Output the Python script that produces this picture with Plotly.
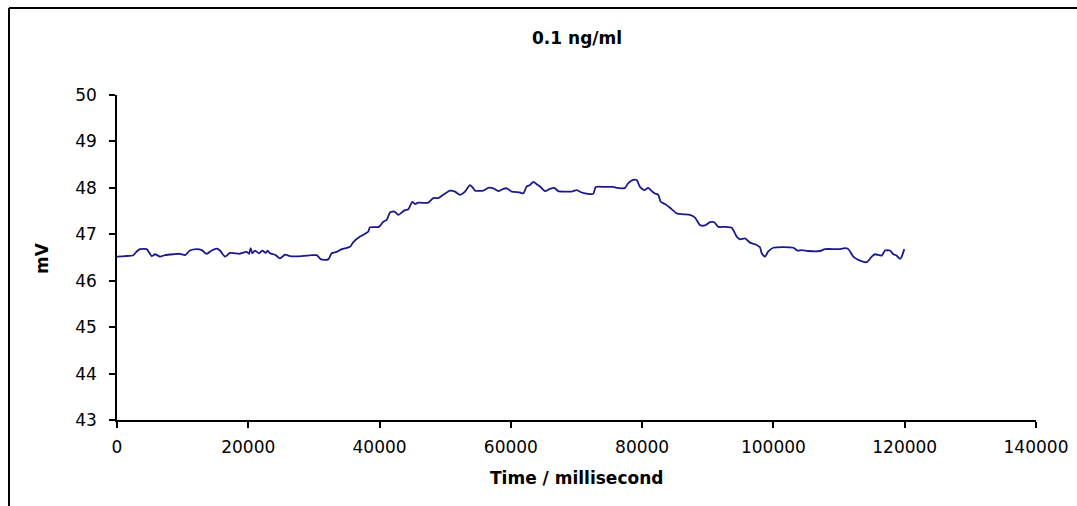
import plotly.graph_objects as go

time_ms = [0, 1219, 2483, 3001, 3504, 4524, 5286, 5789, 6551, 7312, 8577, 9597, 10359, 11120, 12141,
           12903, 13665, 14427, 15188, 15691, 16453, 17214, 17976, 18631, 19759, 20109, 20368, 20612,
           21023, 21632, 22135, 22653, 22958, 23308, 24070, 24831, 25593, 26355, 28137, 29661, 30422,
           31077, 32189, 32707, 33469, 34231, 35495, 35998, 37019, 37781, 38283, 38542, 39913, 40568,
           41086, 41589, 42244, 42853, 43371, 43874, 44377, 44986, 45397, 45900, 47423, 48185, 48946,
           49708, 50729, 51491, 52253, 53014, 53776, 54279, 54538, 55802, 56564, 57326, 58087, 58849,
           59367, 60129, 61393, 61896, 62414, 62917, 63419, 63937, 64440, 65202, 65963, 66618, 67228,
           68248, 69269, 70030, 70792, 71798, 72560, 72925, 74342, 75606, 76124, 77389, 77891, 78653,
           79171, 79674, 80329, 80938, 81456, 81959, 82461, 82827, 83482, 84244, 85265, 86270, 87291,
           88053, 88814, 89576, 90338, 90993, 91602, 92623, 93644, 94405, 94908, 95670, 96431, 97452,
           97955, 98213, 98716, 99219, 99981, 103028, 103637, 104307, 105313, 107095, 107857, 110142,
           110904, 111407, 112168, 112930, 114210, 114972, 115475, 116495, 116998, 117760, 118262,
           118780, 119282, 119541, 119937]

mv = [46.52, 46.53, 46.55, 46.63, 46.68, 46.68, 46.53, 46.57, 46.52, 46.55, 46.57, 46.58, 46.55, 46.65,
      46.68, 46.66, 46.58, 46.65, 46.69, 46.65, 46.52, 46.60, 46.59, 46.58, 46.62, 46.58, 46.70, 46.59,
      46.65, 46.59, 46.65, 46.60, 46.65, 46.59, 46.56, 46.48, 46.56, 46.53, 46.53, 46.55, 46.55, 46.46,
      46.46, 46.59, 46.62, 46.68, 46.73, 46.83, 46.95, 47.01, 47.06, 47.15, 47.16, 47.27, 47.31, 47.47,
      47.49, 47.42, 47.47, 47.52, 47.54, 47.70, 47.65, 47.68, 47.68, 47.78, 47.78, 47.85, 47.94, 47.92,
      47.85, 47.92, 48.06, 47.99, 47.94, 47.94, 48.00, 47.99, 47.93, 47.98, 47.99, 47.92, 47.90, 47.88,
      48.03, 48.06, 48.13, 48.08, 48.03, 47.93, 47.98, 48.00, 47.93, 47.92, 47.92, 47.95, 47.90, 47.87,
      47.87, 48.02, 48.02, 48.02, 48.00, 48.00, 48.10, 48.17, 48.17, 48.02, 47.95, 48.00, 47.93, 47.88,
      47.85, 47.70, 47.65, 47.57, 47.45, 47.43, 47.42, 47.36, 47.20, 47.19, 47.26, 47.26, 47.16, 47.16,
      47.14, 46.95, 46.89, 46.91, 46.82, 46.77, 46.72, 46.59, 46.52, 46.63, 46.71, 46.71, 46.65, 46.66,
      46.64, 46.64, 46.68, 46.68, 46.70, 46.68, 46.52, 46.45, 46.40, 46.52, 46.57, 46.54, 46.65, 46.65,
      46.57, 46.54, 46.47, 46.52, 46.68]

title_text = "0.1 ng/ml"
x_title = "Time / millisecond"
y_title = "mV"

FONT = "DejaVu Sans"
TICK_SIZE = 17
TITLE_SIZE = 17

fig = go.Figure()
fig.add_trace(go.Scatter(x=time_ms, y=mv, mode="lines",
                         line=dict(color="#1a1a8c", width=1.8, shape="spline", smoothing=0.6),
                         showlegend=False, hoverinfo="skip"))

fig.update_layout(
    width=1077, height=506,
    margin=dict(l=117, r=41, t=95, b=86, autoexpand=False),
    paper_bgcolor="white", plot_bgcolor="white",
    font=dict(family=FONT, size=TICK_SIZE, color="black"),
    xaxis=dict(range=[0, 140000], tickmode="linear", tick0=0, dtick=20000, tickformat="d",
               showgrid=False, zeroline=False, showline=True, linecolor="black", linewidth=1.5,
               ticks="outside", ticklen=6, tickwidth=1.5, tickcolor="black",
               ticklabelstandoff=5, automargin=False,
               tickfont=dict(family=FONT, size=TICK_SIZE), fixedrange=True),
    yaxis=dict(range=[43, 50], tickmode="linear", tick0=43, dtick=1, tickformat="d",
               showgrid=False, zeroline=False, showline=True, linecolor="black", linewidth=1.5,
               ticks="outside", ticklen=6, tickwidth=1.5, tickcolor="black",
               ticklabelstandoff=9, automargin=False,
               tickfont=dict(family=FONT, size=TICK_SIZE), fixedrange=True),
    annotations=[
        dict(text="<b>" + title_text + "</b>", xref="paper", yref="paper",
             x=0.5, y=(420 - 38) / 325, xanchor="center", yanchor="middle",
             showarrow=False, font=dict(family=FONT, size=TITLE_SIZE)),
        dict(text="<b>" + x_title + "</b>", xref="paper", yref="paper",
             x=0.5, y=(420 - 478) / 325, xanchor="center", yanchor="middle",
             showarrow=False, font=dict(family=FONT, size=TITLE_SIZE)),
        dict(text="<b>" + y_title + "</b>", xref="paper", yref="paper",
             x=(42 - 117) / 919, y=(420 - 258) / 325, xanchor="center", yanchor="middle",
             textangle=-90, showarrow=False, font=dict(family=FONT, size=TITLE_SIZE)),
    ],
    shapes=[
        dict(type="line", xref="paper", yref="paper",
             x0=(9 - 117) / 919, x1=1.2, y0=(420 - 8) / 325, y1=(420 - 8) / 325,
             line=dict(color="black", width=2)),
        dict(type="line", xref="paper", yref="paper",
             x0=(9 - 117) / 919, x1=(9 - 117) / 919, y0=(420 - 8) / 325, y1=-0.5,
             line=dict(color="black", width=2)),
    ],
)

fig.write_html("out.html")
